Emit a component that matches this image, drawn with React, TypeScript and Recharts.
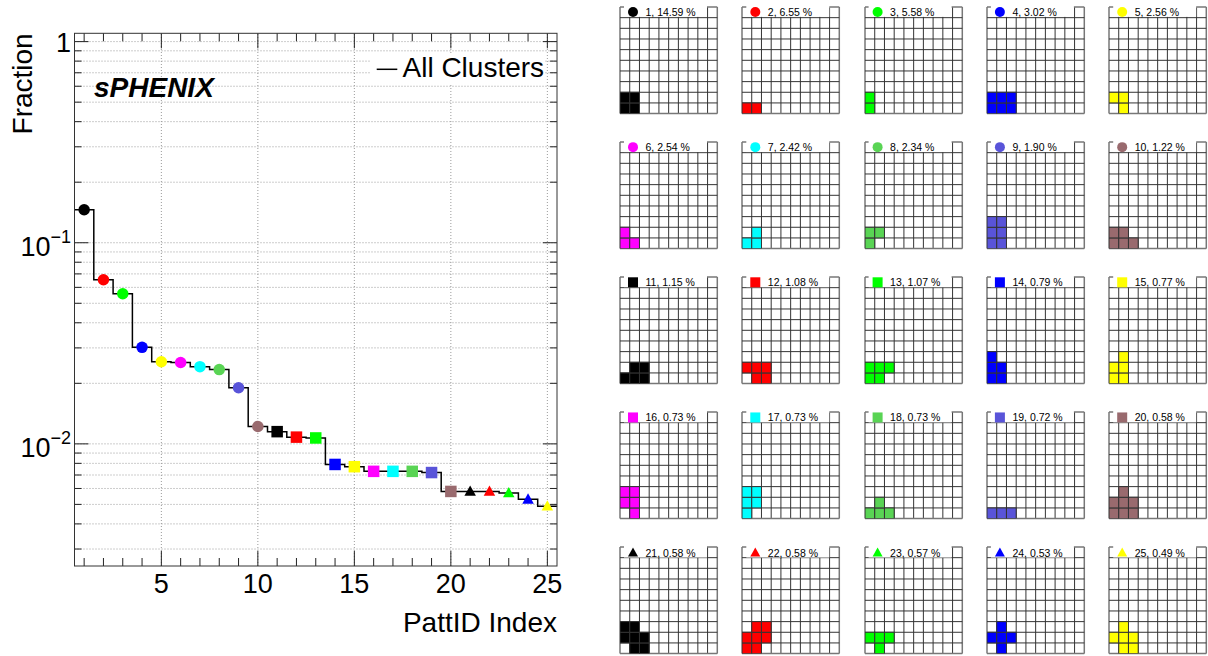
import React from 'react';
import { ComposedChart, Line, Scatter, XAxis, YAxis, ReferenceLine, ScatterChart } from 'recharts';

// ---------- data ----------
const pattIds = [1, 2, 3, 4, 5, 6, 7, 8, 9, 10, 11, 12, 13, 14, 15, 16, 17, 18, 19, 20, 21, 22, 23, 24, 25];
const fractionPct = [14.59, 6.55, 5.58, 3.02, 2.56, 2.54, 2.42, 2.34, 1.9, 1.22, 1.15, 1.08, 1.07, 0.79, 0.77, 0.73, 0.73, 0.73, 0.72, 0.58, 0.58, 0.58, 0.57, 0.53, 0.49];
const markerColors = [
  '#000000', '#ff0000', '#00ff00', '#0000ff', '#ffff00', '#ff00ff', '#00ffff', '#59d454', '#5954d9', '#996a6e',
  '#000000', '#ff0000', '#00ff00', '#0000ff', '#ffff00', '#ff00ff', '#00ffff', '#59d454', '#5954d9', '#996a6e',
  '#000000', '#ff0000', '#00ff00', '#0000ff', '#ffff00',
];
const markerShapes = [
  'circle', 'circle', 'circle', 'circle', 'circle', 'circle', 'circle', 'circle', 'circle', 'circle',
  'square', 'square', 'square', 'square', 'square', 'square', 'square', 'square', 'square', 'square',
  'triangle', 'triangle', 'triangle', 'triangle', 'triangle',
];
// occupied pixels [column, row] (row 0 = bottom) of each cluster pattern
const patternCells: number[][][] = [
  [[0, 0], [1, 0], [0, 1], [1, 1]],
  [[0, 0], [1, 0]],
  [[0, 0], [0, 1]],
  [[0, 0], [1, 0], [2, 0], [0, 1], [1, 1], [2, 1]],
  [[1, 0], [0, 1], [1, 1]],
  [[0, 0], [1, 0], [0, 1]],
  [[0, 0], [1, 0], [1, 1]],
  [[0, 0], [0, 1], [1, 1]],
  [[0, 0], [1, 0], [0, 1], [1, 1], [0, 2], [1, 2]],
  [[0, 0], [1, 0], [2, 0], [0, 1], [1, 1]],
  [[0, 0], [1, 0], [2, 0], [1, 1], [2, 1]],
  [[1, 0], [2, 0], [0, 1], [1, 1], [2, 1]],
  [[0, 0], [1, 0], [0, 1], [1, 1], [2, 1]],
  [[0, 0], [1, 0], [0, 1], [1, 1], [0, 2]],
  [[0, 0], [1, 0], [0, 1], [1, 1], [1, 2]],
  [[1, 0], [0, 1], [1, 1], [0, 2], [1, 2]],
  [[0, 0], [0, 1], [1, 1], [0, 2], [1, 2]],
  [[0, 0], [1, 0], [2, 0], [1, 1]],
  [[0, 0], [1, 0], [2, 0]],
  [[0, 0], [1, 0], [2, 0], [0, 1], [1, 1], [2, 1], [1, 2]],
  [[1, 0], [2, 0], [0, 1], [1, 1], [2, 1], [0, 2], [1, 2]],
  [[0, 0], [1, 0], [0, 1], [1, 1], [2, 1], [1, 2], [2, 2]],
  [[1, 0], [0, 1], [1, 1], [2, 1]],
  [[1, 0], [0, 1], [1, 1], [2, 1], [1, 2]],
  [[1, 0], [2, 0], [0, 1], [1, 1], [2, 1], [1, 2]],
];
const xTicks = pattIds;
const xLabelTicks = [5, 10, 15, 20, 25];
const yTicks = [
  0.003, 0.004, 0.005, 0.006, 0.007, 0.008, 0.009,
  0.01, 0.02, 0.03, 0.04, 0.05, 0.06, 0.07, 0.08, 0.09,
  0.1, 0.2, 0.3, 0.4, 0.5, 0.6, 0.7, 0.8, 0.9, 1,
];
const yMajorLabels: Record<string, string[]> = { '1': ['1', ''], '0.1': ['10', '\u22121'], '0.01': ['10', '\u22122'] };
const xGridLines = [5, 10, 15, 20, 25];
const cellLines = [0, 1, 2, 3, 4, 5, 6, 7, 8, 9, 10];

// ---------- layout ----------
const FONT = '"Liberation Sans", Arial, Helvetica, sans-serif';
const CH_W = 580;
const CH_H = 656;
const PL = 74.5;
const PR = 557;
const PT = 33.3;
const PB = 566;
const Y_DOMAIN = [0.00247, 1.1];

const GRID_LEFT0 = 620;
const GRID_DX = 122.3;
const GRID_TOP0 = 6.7;
const GRID_DY = 135.15;
const GW = 97.3;
const GH = 106.6;
const PAD = 3;

const stepData = (() => {
  const d = pattIds.map((id, i) => ({ x: id - 0.5, y: fractionPct[i] / 100 }));
  d.push({ x: pattIds[pattIds.length - 1] + 0.5, y: fractionPct[fractionPct.length - 1] / 100 });
  return d;
})();
const markerData = pattIds.map((id, i) => ({ x: id, y: fractionPct[i] / 100, color: markerColors[i], shape: markerShapes[i] }));

function drawMarker(shape: string, cx: number, cy: number, color: string, s: number) {
  if (shape === 'circle') return <circle cx={cx} cy={cy} r={s / 2} fill={color} />;
  if (shape === 'square') return <rect x={cx - s / 2} y={cy - s / 2} width={s} height={s} fill={color} />;
  const h = s * 0.9;
  return <polygon points={`${cx},${cy - h * 0.58} ${cx + s / 2},${cy + h * 0.42} ${cx - s / 2},${cy + h * 0.42}`} fill={color} />;
}

const XTick = (props: any) => {
  const x = props.x;
  const v = props.payload.value;
  const major = xLabelTicks.indexOf(v) >= 0;
  const len = major ? 15 : 8;
  return (
    <g>
      <line x1={x} x2={x} y1={PB} y2={PB - len} stroke="#222" strokeWidth={1} />
      <line x1={x} x2={x} y1={PT} y2={PT + len} stroke="#222" strokeWidth={1} />
      {major && (
        <text x={x} y={593} textAnchor="middle" fontSize={27} fill="#000" fontFamily={FONT}>
          {v}
        </text>
      )}
    </g>
  );
};

const YTick = (props: any) => {
  const y = props.y;
  const v = props.payload.value;
  const lab = yMajorLabels[String(v)];
  const len = lab ? 14 : 7;
  return (
    <g>
      <line x1={PL} x2={PL + len} y1={y} y2={y} stroke="#222" strokeWidth={1} />
      <line x1={PR - len} x2={PR} y1={y} y2={y} stroke="#222" strokeWidth={1} />
      {lab && lab[1] === '' && (
        <text x={71} y={y + 10} textAnchor="end" fontSize={27} fill="#000" fontFamily={FONT}>
          {lab[0]}
        </text>
      )}
      {lab && lab[1] !== '' && (
        <text x={71} y={y + 13.5} textAnchor="end" fontSize={27} fill="#000" fontFamily={FONT}>
          {lab[0]}
          <tspan dy={-13} fontSize={18}>{lab[1]}</tspan>
        </text>
      )}
    </g>
  );
};

function MainChart() {
  return (
    <div style={{ position: 'absolute', left: 0, top: 0 }}>
      <ComposedChart width={CH_W} height={CH_H} data={stepData} margin={{ top: PT, right: CH_W - PR, bottom: 0, left: 0 }}>
        <XAxis
          type="number"
          dataKey="x"
          domain={[0.5, 25.5]}
          ticks={xTicks}
          interval={0}
          height={CH_H - PB}
          axisLine={false}
          tickLine={false}
          tick={(p: any) => <XTick {...p} />}
          allowDataOverflow
        />
        <YAxis
          type="number"
          dataKey="y"
          scale="log"
          domain={Y_DOMAIN}
          ticks={yTicks}
          interval={0}
          width={PL}
          axisLine={false}
          tickLine={false}
          tick={(p: any) => <YTick {...p} />}
          allowDataOverflow
        />
        {yTicks.map((t) => (
          <ReferenceLine key={'hy' + t} y={t} stroke="#9a9a9a" strokeWidth={1} strokeDasharray="1 2" />
        ))}
        {xGridLines.map((t) => (
          <ReferenceLine key={'vx' + t} x={t} stroke="#9a9a9a" strokeWidth={1} strokeDasharray="1 2" />
        ))}
        <Line type="stepAfter" dataKey="y" stroke="#000" strokeWidth={1.5} dot={false} isAnimationActive={false} />
        <Scatter
          data={markerData}
          dataKey="y"
          isAnimationActive={false}
          shape={(p: any) => drawMarker(p.payload.shape, p.cx, p.cy, p.payload.color, 11.5)}
        />
      </ComposedChart>
    </div>
  );
}

function PatternGrid({ idx }: { idx: number }) {
  const left = GRID_LEFT0 + (idx % 5) * GRID_DX;
  const top = GRID_TOP0 + Math.floor(idx / 5) * GRID_DY;
  const cells = patternCells[idx].map(([c, r]) => ({ c: c + 0.5, r: r + 0.5 }));
  const color = markerColors[idx];
  const cw = GW / 10;
  const chh = GH / 10;
  return (
    <div style={{ position: 'absolute', left: left - PAD, top: top - PAD }}>
      <ScatterChart width={GW + 2 * PAD} height={GH + 2 * PAD} margin={{ top: PAD, right: PAD, bottom: PAD, left: PAD }}>
        <XAxis type="number" dataKey="c" domain={[0, 10]} hide allowDataOverflow />
        <YAxis type="number" dataKey="r" domain={[0, 10]} hide allowDataOverflow />
        <Scatter
          data={cells}
          isAnimationActive={false}
          shape={(p: any) => (
            <rect x={p.cx - cw / 2} y={p.cy - chh / 2} width={cw} height={chh} fill={color} stroke="#333" strokeWidth={1} />
          )}
        />
        {cellLines.map((k) => (
          <ReferenceLine
            key={'v' + k}
            x={k}
            stroke={k === 0 || k === 10 ? '#777' : '#333'}
            strokeWidth={k === 0 || k === 10 ? 1.5 : 1}
          />
        ))}
        {cellLines.map((k) => (
          <ReferenceLine
            key={'h' + k}
            y={k}
            stroke={k === 0 || k === 10 ? '#777' : '#333'}
            strokeWidth={k === 0 || k === 10 ? 1.5 : 1}
          />
        ))}
      </ScatterChart>
    </div>
  );
}

function Overlay() {
  return (
    <svg width={1208} height={656} style={{ position: 'absolute', left: 0, top: 0, pointerEvents: 'none' }}>
      {/* frame */}
      <rect x={PL} y={PT} width={PR - PL} height={PB - PT} fill="none" stroke="#333" strokeWidth={1} />
      {/* legend */}
      <rect x={371} y={53} width={174} height={30} fill="#fff" />
      <line x1={376.7} x2={397.3} y1={69.3} y2={69.3} stroke="#000" strokeWidth={1.5} />
      <text x={402.5} y={77} fontSize={28} fill="#000" fontFamily={FONT}>
        All Clusters
      </text>
      <text x={94} y={96.5} fontSize={28} fontWeight="bold" fontStyle="italic" fill="#000" fontFamily={FONT}>
        sPHENIX
      </text>
      <text transform={`translate(32, ${PT}) rotate(-90)`} textAnchor="end" fontSize={28} fill="#000" fontFamily={FONT}>
        Fraction
      </text>
      <text x={PR} y={632} textAnchor="end" fontSize={28} fill="#000" fontFamily={FONT}>
        PattID Index
      </text>
      {/* pattern labels */}
      {pattIds.map((id, i) => {
        const left = GRID_LEFT0 + (i % 5) * GRID_DX;
        const top = GRID_TOP0 + Math.floor(i / 5) * GRID_DY;
        return (
          <g key={'lab' + id}>
            <rect x={left + 4} y={top - 1.5} width={83} height={11.7} fill="#fff" />
            {drawMarker(markerShapes[i], left + 13, top + 5.3, markerColors[i], 10)}
            <text x={left + 25.5} y={top + 9.3} fontSize={10.5} fill="#000" fontFamily={FONT}>
              {`${id}, ${fractionPct[i].toFixed(2)} %`}
            </text>
          </g>
        );
      })}
    </svg>
  );
}

export default function App() {
  return (
    <div style={{ position: 'absolute', left: 0, top: 0, width: 1208, height: 656, background: '#fff', fontFamily: FONT, overflow: 'hidden' }}>
      <MainChart />
      {pattIds.map((id, i) => (
        <PatternGrid key={'g' + id} idx={i} />
      ))}
      <Overlay />
    </div>
  );
}
